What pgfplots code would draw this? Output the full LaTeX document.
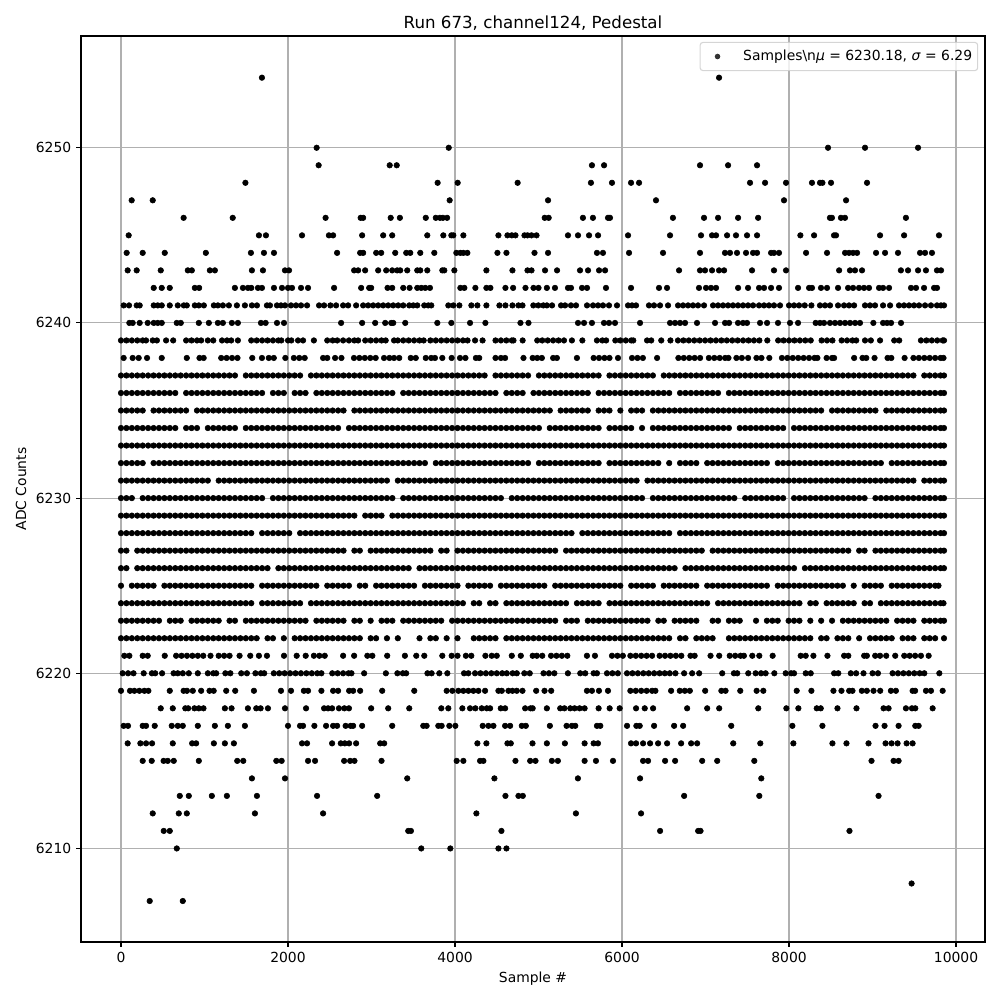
\documentclass[border=0pt]{standalone}
\usepackage{pgfplots}
\usepackage{fontspec}
\pgfplotsset{compat=1.18}
\setmainfont{DejaVu Sans}
\pgfplotsset{pt/.style={only marks,mark=*,mark size=2bp,mark options={fill=black,draw=none},black,forget plot}}
\definecolor{gridc}{HTML}{B0B0B0}
\begin{document}
\begin{tikzpicture}
\path[use as bounding box] (-0.81in,-0.58in) rectangle (9.19in,9.42in);
\begin{axis}[
    at={(0,0)},anchor=south west,
    scale only axis,
    width=9.04in,height=9.06in,
    xmin=-479,xmax=10347,ymin=6204.66,ymax=6256.38,
    xtick={0,2000,4000,6000,8000,10000},
    ytick={6210,6220,6230,6240,6250},
    scaled ticks=false,
    /pgf/number format/.cd,1000 sep={},assume math mode=true,/pgfplots/.cd,
    tick label style={font=\fontsize{10bp}{12bp}\selectfont},
    label style={font=\fontsize{10bp}{12bp}\selectfont},
    title style={font=\fontsize{12bp}{14bp}\selectfont,yshift=-5.5bp},
    title={Run 673, channel124, Pedestal},
    xlabel={Sample \#},ylabel={ADC Counts},
    grid=major,grid style={gridc,line width=0.8bp},
    axis line style={black,line width=0.8bp},
    tick style={black,line width=0.8bp},
    tick align=outside,major tick length=3.5bp,
    xtick pos=bottom,ytick pos=left,
    table/x index=0,table/header=false,
    legend image code/.code={\path[draw=none,fill=none] (0,0) rectangle (27bp,0);\fill[black,draw=none] (10.5bp,0) circle (2bp);},
    legend style={at={(0.9925,0.9935)},anchor=north east,rounded corners=2bp,draw=black!20,fill=white,fill opacity=0.8,text opacity=1,draw opacity=0.8,font=\fontsize{10bp}{12bp}\selectfont,inner xsep=2bp,inner ysep=3.6bp,line width=0.8bp},
    legend cell align=left,
]
\addplot[only marks,mark=*,mark size=2bp,mark options={fill=black,draw=none},black] table[y expr=6254]{
1688
7162
};
\addlegendentry{Samples\textbackslash n\textit{μ} = 6230.18, \textit{σ} = 6.29}
\addplot[pt] table[y expr=6250]{
2343
3925
8467
8910
9545
};
\addplot[pt] table[y expr=6249]{
2367
3218
3302
5640
5785
6934
7270
7617
};
\addplot[pt] table[y expr=6248]{
1490
3792
4032
4750
5628
5880
6108
6204
7533
7713
7964
8275
8371
8400
8503
8934
};
\addplot[pt] table[y expr=6247]{
128
380
3936
5114
6407
7940
8683
};
\addplot[pt] table[y expr=6246]{
750
1338
2450
2870
2900
3230
3340
3650
3770
3820
3855
3905
5074
5122
5532
5652
5832
5856
6610
6982
7150
7390
7630
8490
8514
8622
8670
9400
};
\addplot[pt] table[y expr=6245]{
92
1652
1736
2168
2490
2540
2888
3140
3248
3668
3860
3956
3980
4100
4520
4628
4680
4724
4832
4868
4916
4976
5353
5473
5605
5713
6072
6575
6946
7078
7126
7258
7365
7497
7617
8136
8300
8539
8563
9090
9378
9796
};
\addplot[pt] table[y expr=6244]{
68
260
524
1016
1556
1712
1832
2588
2864
2900
3056
3116
3284
3416
3464
3584
3752
4016
4064
4100
4148
4508
4616
4952
5114
5700
5772
6084
6491
6934
7233
7293
7377
7485
7569
7617
7785
7820
7880
8204
8455
8671
8719
8767
8815
9042
9150
9305
9569
9629
9712
};
\addplot[pt] table[y expr=6243]{
80
188
476
800
848
1064
1124
1568
1700
1964
2012
2792
2840
2924
3080
3176
3248
3308
3344
3428
3548
3584
3668
3848
3872
3992
4376
4688
4868
4916
5078
5222
5497
5593
5725
5797
6683
6934
6994
7078
7162
7222
7557
7820
7964
8600
8730
8790
8874
9340
9425
9545
9640
9772
9820
};
\addplot[pt] table[y expr=6242]{
392
488
584
884
936
1364
1460
1520
1560
1640
1688
1832
1928
2000
2048
2156
2240
2552
2876
2972
2996
3192
3248
3380
3456
3548
3596
3644
3700
4064
4112
4244
4376
4424
4604
4696
4844
4940
5000
5100
5197
5353
5389
5521
5581
5808
6108
6443
6539
6922
7006
7066
7126
7390
7509
7641
7701
7785
7880
8108
8240
8275
8383
8455
8587
8707
8767
8838
8898
8958
9078
9126
9198
9461
9521
9617
9737
9772
};
\addplot[pt] table[y expr=6241]{
32
96
188
224
392
440
488
584
680
752
788
884
932
992
1112
1160
1220
1292
1388
1484
1568
1628
1748
1784
1868
1916
1964
2036
2096
2156
2228
2372
2432
2508
2576
2660
2720
2816
2900
2960
3020
3080
3140
3200
3260
3320
3380
3452
3500
3548
3632
3680
3716
3920
3980
4052
4196
4268
4376
4532
4604
4688
4760
4808
4938
4998
5058
5100
5162
5270
5318
5389
5449
5581
5653
5713
5772
5844
5940
6072
6120
6168
6323
6383
6455
6551
6671
6731
6791
6850
6910
6982
7090
7150
7210
7270
7329
7389
7449
7509
7569
7641
7701
7760
7820
7892
8000
8060
8120
8188
8268
8371
8431
8491
8587
8659
8719
8779
8910
8970
9030
9126
9210
9317
9377
9437
9497
9557
9629
9700
9772
9820
9856
};
\addplot[pt] table[y expr=6240]{
100
140
224
320
392
440
488
668
716
932
1052
1160
1220
1328
1400
1676
1732
1868
1952
2636
2888
3044
3164
3236
3260
3404
3788
3956
4180
4364
4784
4880
5473
5545
5640
5784
5844
5916
6216
6575
6635
6695
6755
6898
7114
7234
7282
7389
7449
7497
7653
7737
7868
8012
8108
8319
8371
8419
8491
8551
8611
8671
8731
8791
8850
9010
9126
9174
9222
9341
};
\addplot[pt] table[y expr=6239]{
0
65
130
195
260
300
380
430
540
625
780
845
910
960
1040
1105
1210
1270
1320
1400
1560
1625
1690
1755
1820
1885
1920
2000
2040
2120
2180
2310
2470
2535
2590
2660
2730
2795
2840
2925
2990
3055
3120
3170
3270
3315
3380
3445
3510
3575
3625
3705
3770
3835
3900
3965
4030
4095
4150
4240
4330
4485
4550
4615
4680
4700
4810
4985
5045
5110
5175
5240
5305
5400
5525
5700
5765
5810
5920
5980
6045
6110
6135
6300
6350
6470
6580
6670
6735
6800
6865
6930
6995
7060
7125
7190
7255
7320
7385
7450
7515
7580
7645
7740
7870
7935
8000
8065
8130
8195
8260
8390
8455
8520
8630
8695
8760
8805
8910
8980
9090
9260
9320
9580
9645
9710
9775
9840
9856
};
\addplot[pt] table[y expr=6238]{
32
140
212
312
488
788
940
990
1200
1265
1330
1395
1572
1688
1770
1830
1968
2070
2135
2200
2420
2470
2564
2640
2790
2855
2920
2985
3050
3150
3215
3270
3332
3470
3530
3650
3715
3760
3848
3960
4060
4125
4250
4290
4485
4550
4600
4820
4930
4985
5040
5175
5220
5460
5660
5725
5790
5850
5952
6120
6185
6250
6420
6675
6740
6805
6870
6935
7040
7105
7170
7235
7275
7370
7435
7510
7610
7670
7764
7915
7980
8045
8110
8175
8240
8305
8340
8450
8515
8540
8780
8880
8925
9024
9180
9225
9384
9490
9555
9620
9685
9750
9815
9850
};
\addplot[pt] table[y expr=6237]{
0
65
130
195
260
325
390
455
520
585
650
715
780
845
910
975
1040
1105
1170
1235
1300
1365
1495
1560
1625
1690
1755
1820
1885
1950
2015
2080
2145
2275
2340
2405
2470
2535
2600
2665
2730
2795
2860
2925
2990
3055
3120
3185
3250
3315
3380
3445
3510
3575
3640
3705
3770
3835
3900
3965
4030
4095
4160
4225
4290
4355
4485
4550
4615
4680
4745
4810
4875
5005
5070
5135
5200
5265
5330
5395
5460
5525
5590
5655
5720
5850
5915
5980
6045
6110
6175
6240
6305
6370
6500
6565
6630
6695
6760
6825
6890
6955
7020
7085
7150
7215
7280
7345
7410
7475
7540
7605
7670
7735
7800
7865
7930
7995
8060
8125
8190
8255
8320
8385
8450
8515
8580
8645
8710
8775
8840
8905
8970
9035
9100
9165
9230
9295
9360
9425
9490
9620
9685
9750
9815
9856
};
\addplot[pt] table[y expr=6236]{
0
65
130
195
260
325
390
455
520
585
650
780
845
910
975
1040
1105
1170
1235
1300
1365
1430
1495
1560
1625
1690
1820
1885
1950
2080
2145
2210
2340
2405
2470
2535
2600
2665
2730
2795
2860
2925
2990
3055
3120
3185
3250
3380
3445
3510
3575
3640
3705
3770
3835
3900
3965
4030
4095
4160
4225
4290
4355
4420
4485
4615
4680
4745
4810
4940
5005
5070
5135
5200
5265
5330
5395
5460
5525
5590
5720
5785
5850
5915
5980
6045
6110
6175
6240
6305
6370
6435
6500
6565
6695
6760
6825
6890
6955
7020
7085
7150
7280
7345
7410
7475
7540
7605
7670
7735
7800
7865
7930
7995
8060
8125
8190
8255
8320
8385
8450
8515
8580
8645
8710
8775
8840
8905
8970
9035
9100
9165
9230
9295
9360
9425
9490
9555
9620
9685
9750
9815
9856
};
\addplot[pt] table[y expr=6235]{
0
65
130
195
260
390
455
520
585
650
715
780
910
975
1040
1105
1170
1235
1300
1365
1430
1495
1560
1625
1690
1755
1820
1885
1950
2015
2080
2145
2210
2275
2340
2405
2470
2535
2600
2665
2795
2860
2925
2990
3055
3120
3185
3250
3315
3380
3445
3510
3575
3640
3705
3770
3835
3900
3965
4030
4095
4160
4225
4290
4355
4420
4485
4550
4615
4680
4745
4810
4875
4940
5005
5070
5135
5265
5330
5395
5460
5525
5590
5720
5785
5850
5980
6110
6175
6240
6370
6435
6500
6565
6630
6695
6760
6825
6890
6955
7020
7085
7150
7215
7280
7345
7410
7475
7540
7605
7670
7735
7800
7865
7930
7995
8060
8125
8190
8255
8320
8385
8515
8580
8645
8710
8775
8840
8905
8970
9035
9165
9230
9295
9360
9425
9490
9555
9620
9685
9750
9815
9856
};
\addplot[pt] table[y expr=6234]{
0
65
130
195
260
325
390
455
520
585
650
780
845
910
1040
1105
1170
1235
1300
1365
1495
1560
1625
1690
1755
1820
1885
1950
2015
2080
2145
2210
2275
2340
2405
2470
2535
2600
2730
2795
2860
2925
2990
3055
3120
3185
3250
3315
3380
3445
3510
3575
3640
3705
3770
3835
3900
3965
4030
4095
4160
4225
4290
4355
4420
4485
4550
4615
4680
4745
4810
4875
4940
5005
5135
5200
5265
5330
5395
5460
5525
5590
5655
5720
5850
5915
5980
6045
6110
6240
6370
6435
6500
6565
6630
6695
6760
6825
6890
6955
7020
7085
7150
7215
7280
7410
7475
7540
7605
7670
7735
7800
7865
7930
8060
8125
8190
8255
8320
8385
8450
8515
8580
8645
8710
8775
8840
8905
8970
9035
9100
9165
9230
9295
9360
9425
9490
9555
9620
9685
9750
9815
9856
};
\addplot[pt] table[y expr=6233]{
0
65
130
195
260
325
390
455
520
585
650
715
780
845
910
975
1040
1105
1170
1235
1300
1365
1430
1495
1560
1625
1690
1755
1820
1885
1950
2015
2080
2145
2210
2275
2340
2405
2470
2535
2600
2665
2730
2795
2860
2925
2990
3055
3120
3185
3250
3315
3380
3445
3510
3575
3640
3705
3770
3835
3900
3965
4030
4095
4160
4225
4290
4355
4420
4485
4550
4615
4680
4745
4810
4875
4940
5005
5070
5135
5200
5265
5330
5395
5460
5525
5590
5655
5720
5785
5850
5915
5980
6045
6110
6175
6240
6305
6370
6435
6500
6565
6630
6695
6760
6825
6890
6955
7020
7085
7150
7215
7280
7345
7410
7475
7540
7605
7670
7735
7800
7865
7930
7995
8060
8125
8190
8255
8320
8385
8450
8515
8580
8645
8710
8775
8840
8905
8970
9035
9100
9165
9230
9295
9360
9425
9490
9555
9620
9685
9750
9815
9856
};
\addplot[pt] table[y expr=6232]{
0
65
130
195
260
390
455
520
585
650
715
780
845
910
975
1040
1105
1170
1235
1300
1365
1430
1495
1560
1625
1690
1755
1820
1885
1950
2015
2080
2145
2210
2275
2340
2405
2470
2535
2600
2665
2730
2795
2860
2925
2990
3055
3120
3185
3250
3315
3380
3445
3510
3575
3640
3770
3835
3900
3965
4030
4095
4160
4225
4290
4355
4420
4485
4550
4615
4680
4745
4810
4875
5005
5070
5135
5200
5265
5330
5395
5460
5525
5590
5655
5720
5850
5915
5980
6045
6110
6175
6240
6305
6370
6435
6565
6695
6760
6825
6890
7020
7085
7150
7215
7280
7345
7410
7475
7540
7605
7670
7735
7865
7930
7995
8060
8125
8190
8255
8320
8385
8450
8515
8580
8645
8710
8775
8840
8905
8970
9035
9100
9230
9295
9360
9425
9490
9555
9620
9685
9750
9815
9856
};
\addplot[pt] table[y expr=6231]{
0
65
130
195
260
325
390
455
520
585
650
715
780
845
910
975
1040
1170
1235
1300
1365
1430
1495
1560
1625
1690
1755
1820
1885
1950
2015
2080
2145
2210
2275
2340
2405
2470
2535
2600
2665
2730
2795
2860
2925
2990
3055
3120
3185
3315
3380
3445
3510
3575
3640
3705
3770
3835
3900
3965
4030
4095
4160
4225
4290
4355
4420
4485
4550
4615
4680
4745
4810
4875
4940
5005
5070
5135
5200
5265
5330
5395
5460
5525
5590
5655
5720
5785
5850
5915
5980
6045
6110
6175
6305
6370
6435
6500
6565
6630
6695
6760
6825
6890
6955
7020
7085
7150
7215
7280
7345
7410
7475
7540
7605
7670
7735
7800
7865
7930
7995
8060
8125
8190
8255
8320
8385
8450
8515
8580
8645
8710
8775
8840
8905
8970
9035
9100
9165
9230
9295
9360
9425
9490
9620
9685
9750
9815
9856
};
\addplot[pt] table[y expr=6230]{
0
65
130
260
325
390
455
520
585
650
715
780
845
910
975
1040
1105
1170
1235
1300
1365
1430
1495
1560
1625
1690
1820
1885
1950
2015
2080
2145
2210
2275
2340
2405
2470
2535
2600
2665
2730
2795
2860
2925
2990
3055
3120
3185
3250
3380
3445
3510
3575
3640
3705
3770
3835
3900
3965
4030
4095
4160
4225
4290
4355
4420
4485
4550
4680
4745
4810
4875
4940
5005
5070
5135
5200
5265
5330
5395
5460
5525
5590
5655
5720
5785
5850
5915
5980
6045
6110
6175
6240
6370
6435
6500
6565
6630
6695
6760
6825
6890
6955
7020
7085
7150
7215
7280
7345
7475
7540
7605
7670
7735
7800
7865
7930
8060
8125
8190
8255
8320
8385
8450
8515
8580
8645
8710
8775
8840
8905
9035
9100
9165
9230
9295
9360
9425
9490
9555
9620
9685
9750
9815
9856
};
\addplot[pt] table[y expr=6229]{
0
65
130
195
260
325
390
455
520
585
650
715
780
845
910
975
1040
1105
1170
1235
1300
1365
1430
1495
1560
1625
1690
1755
1820
1885
1950
2015
2080
2145
2210
2275
2340
2405
2470
2535
2600
2665
2730
2795
2925
2990
3055
3120
3250
3315
3380
3445
3510
3575
3640
3705
3770
3835
3900
3965
4030
4095
4160
4225
4290
4355
4420
4485
4550
4615
4680
4745
4810
4875
4940
5005
5070
5135
5200
5265
5330
5395
5460
5525
5590
5655
5720
5785
5850
5915
5980
6045
6110
6175
6240
6305
6370
6435
6500
6565
6630
6695
6760
6825
6890
6955
7020
7085
7150
7215
7280
7345
7410
7475
7540
7605
7670
7735
7800
7865
7930
7995
8060
8125
8190
8255
8320
8385
8450
8515
8580
8645
8710
8775
8840
8905
8970
9035
9100
9165
9230
9295
9360
9425
9490
9555
9620
9685
9750
9815
9856
};
\addplot[pt] table[y expr=6228]{
0
65
130
195
260
325
390
455
520
585
650
715
780
845
910
975
1040
1105
1170
1235
1300
1365
1430
1495
1560
1690
1755
1820
1885
1950
2015
2145
2210
2275
2340
2405
2470
2535
2600
2665
2730
2795
2860
2925
2990
3055
3120
3185
3250
3315
3380
3445
3510
3575
3640
3705
3770
3835
3900
3965
4030
4095
4160
4225
4290
4355
4420
4485
4550
4615
4680
4745
4810
4875
4940
5005
5070
5135
5200
5265
5330
5395
5525
5590
5655
5720
5785
5850
5915
5980
6045
6110
6175
6240
6305
6370
6435
6500
6565
6695
6760
6825
6890
6955
7020
7085
7150
7215
7280
7345
7410
7475
7540
7605
7670
7735
7800
7865
7930
7995
8060
8125
8190
8255
8320
8385
8450
8515
8580
8645
8710
8775
8840
8905
8970
9035
9100
9165
9230
9295
9360
9425
9490
9555
9620
9685
9750
9815
9856
};
\addplot[pt] table[y expr=6227]{
0
65
195
260
325
390
455
520
585
650
715
780
845
910
975
1040
1105
1170
1235
1300
1365
1430
1495
1560
1625
1690
1755
1820
1885
1950
2015
2080
2145
2210
2275
2340
2405
2470
2535
2600
2665
2795
2860
2990
3055
3120
3185
3250
3315
3380
3445
3510
3575
3640
3705
3835
3900
4030
4095
4160
4225
4290
4355
4420
4485
4550
4615
4680
4745
4810
4875
4940
5005
5070
5135
5200
5330
5395
5460
5525
5590
5655
5720
5785
5850
5915
5980
6045
6110
6175
6240
6305
6370
6435
6500
6565
6630
6695
6760
6825
6890
6955
7085
7150
7215
7280
7345
7410
7475
7540
7605
7670
7735
7800
7865
7930
7995
8060
8125
8190
8255
8320
8385
8450
8515
8580
8645
8710
8840
8905
9035
9100
9165
9230
9295
9360
9425
9490
9555
9620
9685
9750
9815
9856
};
\addplot[pt] table[y expr=6226]{
0
65
195
260
325
390
455
520
585
650
715
780
845
910
975
1040
1105
1170
1235
1300
1365
1430
1495
1560
1625
1690
1755
1885
1950
2015
2080
2145
2210
2275
2340
2405
2470
2535
2600
2665
2730
2795
2860
2925
2990
3055
3120
3185
3250
3315
3380
3445
3575
3640
3705
3770
3835
3900
3965
4030
4095
4160
4225
4290
4355
4420
4485
4550
4615
4680
4745
4810
4875
4940
5005
5070
5135
5200
5265
5330
5395
5460
5525
5590
5655
5720
5785
5850
5915
5980
6045
6110
6175
6240
6305
6370
6435
6500
6565
6630
6760
6825
6890
6955
7020
7085
7150
7215
7280
7345
7410
7475
7540
7605
7670
7735
7800
7865
7930
7995
8060
8190
8255
8320
8385
8450
8515
8580
8645
8710
8775
8840
8905
8970
9035
9100
9165
9230
9295
9360
9425
9490
9555
9620
9685
9750
9815
9856
};
\addplot[pt] table[y expr=6225]{
0
130
195
260
325
390
520
585
650
715
780
845
910
975
1040
1105
1170
1235
1300
1365
1430
1495
1560
1690
1755
1820
1885
1950
2015
2080
2145
2210
2275
2340
2470
2535
2600
2665
2730
2860
2925
3055
3120
3185
3250
3315
3380
3445
3510
3640
3705
3770
3835
3900
3965
4030
4160
4225
4290
4355
4420
4550
4615
4680
4745
4810
4875
4940
5005
5070
5200
5265
5330
5395
5460
5525
5590
5655
5720
5785
5850
5915
5980
6110
6175
6240
6305
6370
6500
6565
6630
6695
6760
6825
6890
7020
7085
7150
7215
7280
7345
7410
7475
7540
7605
7670
7735
7865
7930
7995
8060
8125
8190
8255
8320
8385
8450
8515
8580
8645
8775
8905
8970
9035
9100
9230
9295
9360
9425
9490
9555
9620
9685
9750
9790
};
\addplot[pt] table[y expr=6224]{
0
65
130
195
260
325
390
455
520
585
650
715
780
845
910
975
1040
1105
1170
1235
1300
1365
1430
1495
1560
1690
1755
1820
1885
1950
2015
2080
2145
2275
2340
2405
2470
2535
2600
2665
2730
2795
2860
2925
2990
3055
3120
3185
3250
3315
3380
3445
3510
3575
3640
3705
3770
3835
3900
3965
4030
4095
4225
4290
4420
4485
4615
4680
4745
4810
4875
4940
5005
5070
5135
5200
5265
5330
5460
5525
5590
5655
5720
5850
5915
5980
6045
6110
6175
6240
6305
6370
6435
6500
6565
6630
6695
6760
6825
6890
6955
7020
7150
7215
7280
7345
7410
7475
7540
7605
7670
7735
7800
7865
7930
7995
8060
8125
8255
8320
8450
8515
8580
8645
8710
8775
8905
8970
9100
9165
9230
9295
9360
9425
9490
9555
9620
9685
9750
9815
9850
};
\addplot[pt] table[y expr=6223]{
0
65
130
195
260
325
390
455
585
650
715
845
910
975
1040
1105
1170
1300
1365
1495
1560
1625
1690
1755
1820
1885
1950
2015
2080
2145
2210
2340
2405
2470
2535
2600
2665
2795
2860
2990
3120
3185
3250
3380
3445
3510
3575
3640
3705
3770
3835
3965
4030
4095
4160
4225
4290
4355
4420
4485
4550
4615
4680
4745
4810
4875
4940
5005
5070
5135
5200
5330
5395
5460
5590
5655
5720
5785
5850
5915
5980
6045
6110
6175
6240
6305
6435
6500
6630
6695
6760
6825
6890
7085
7150
7280
7345
7410
7605
7735
7800
7865
7995
8060
8125
8255
8385
8515
8645
8710
8775
8840
8905
8970
9035
9100
9165
9295
9360
9425
9490
9620
9685
9750
9815
9856
};
\addplot[pt] table[y expr=6222]{
0
65
130
195
260
325
390
455
520
585
650
715
780
845
910
975
1040
1105
1170
1235
1300
1365
1430
1495
1560
1625
1755
1820
1950
2080
2145
2210
2275
2340
2405
2470
2535
2600
2665
2730
2795
2860
2990
3055
3185
3315
3575
3705
3770
3900
4030
4225
4290
4355
4420
4485
4615
4680
4745
4810
4875
4940
5005
5070
5135
5200
5265
5330
5395
5460
5525
5590
5655
5720
5785
5850
5915
5980
6045
6110
6175
6240
6305
6370
6435
6500
6565
6695
6760
6890
6955
7020
7085
7280
7345
7410
7475
7540
7605
7670
7735
7800
7865
7930
7995
8060
8125
8190
8255
8385
8450
8580
8645
8710
8840
8970
9035
9100
9165
9230
9360
9425
9490
9620
9685
9750
9856
};
\addplot[pt] table[y expr=6221]{
40
100
260
320
524
660
725
790
855
920
985
1072
1170
1235
1300
1420
1548
1652
1748
1952
2104
2212
2310
2375
2440
2660
2792
2950
3010
3188
3400
3536
3632
3848
3960
4030
4130
4195
4364
4440
4500
4680
4788
4930
4980
5045
5150
5215
5280
5345
5580
5676
5880
5945
6010
6100
6165
6230
6295
6360
6450
6515
6580
6645
6710
6820
6870
7060
7164
7290
7355
7420
7460
7560
7644
7804
8140
8200
8292
8460
8660
8710
8900
8932
9032
9090
9164
9272
9380
9445
9510
9580
9672
};
\addplot[pt] table[y expr=6220]{
20
85
150
272
370
410
492
630
680
740
812
920
1040
1105
1140
1250
1310
1440
1508
1610
1675
1715
1830
1895
1960
2025
2090
2155
2220
2285
2350
2400
2530
2595
2660
2725
2760
2912
3172
3310
3375
3415
3670
3720
3812
3908
4108
4160
4240
4305
4370
4435
4500
4565
4620
4690
4740
4830
4895
5060
5125
5190
5352
5500
5560
5660
5700
5820
5885
5950
6060
6125
6190
6255
6320
6385
6450
6512
6572
6640
6744
6840
6924
7200
7340
7380
7512
7600
7665
7720
7824
7960
8025
8060
8200
8260
8540
8590
8740
8804
8892
9000
9065
9240
9305
9370
9435
9500
9565
9620
9800
};
\addplot[pt] table[y expr=6219]{
0
108
160
220
280
328
584
750
790
860
960
1060
1110
1260
1368
1592
1916
2036
2190
2240
2400
2540
2600
2732
2780
2864
3128
3512
3900
3968
4040
4100
4160
4220
4280
4360
4520
4560
4640
4688
4740
4808
4972
5072
5152
5580
5640
5724
5832
6100
6165
6230
6295
6360
6400
6588
6692
6752
6812
6996
7190
7240
7416
7612
7692
8092
8268
8532
8628
8720
8760
8872
8932
9012
9092
9220
9280
9480
9510
9640
9700
9840
};
\addplot[pt] table[y expr=6218]{
476
620
770
805
880
932
988
1244
1324
1520
1620
1672
1760
1964
2216
2432
2480
2528
2610
2675
2730
2996
3200
3452
3836
3920
4088
4180
4244
4320
4380
4420
4548
4600
4840
4905
4930
5100
5260
5310
5380
5432
5492
5552
5720
5852
5972
6168
6272
6372
6780
7020
7164
7632
7968
8112
8332
8380
8580
8808
9132
9192
9400
9472
9512
9720
};
\addplot[pt] table[y expr=6217]{
32
84
260
300
404
608
680
740
920
1124
1280
1484
2000
2144
2180
2316
2456
2540
2588
2690
2750
2780
2888
3248
3620
3660
3800
3840
3932
4004
4332
4400
4460
4600
4660
4800
4848
5136
5336
5400
5440
5700
5740
6060
6172
6212
6384
6624
6732
7308
8040
8400
9036
9144
9312
9512
9552
};
\addplot[pt] table[y expr=6216]{
80
232
300
372
620
852
900
1112
1244
1352
2168
2228
2528
2632
2680
2732
2816
3104
3152
4268
4376
4628
4668
4928
5100
5316
5552
5660
5712
6108
6168
6252
6336
6432
6540
6708
6828
6900
7332
7656
8052
8520
8688
8952
9156
9228
9300
9408
9480
};
\addplot[pt] table[y expr=6215]{
260
368
510
560
632
932
1392
1464
1860
1924
2240
2324
2672
2744
2796
3120
4020
4100
4300
4340
4724
4900
4964
5160
5232
5552
5688
5892
6252
6312
6516
6636
6960
7140
7584
8988
9252
9312
};
\addplot[pt] table[y expr=6214]{
1568
1964
3428
4472
5472
6216
7668
};
\addplot[pt] table[y expr=6213]{
704
812
1088
1268
1628
2348
3068
4604
4760
4812
6744
7644
9072
};
\addplot[pt] table[y expr=6212]{
380
692
788
1604
2420
4256
5448
6228
};
\addplot[pt] table[y expr=6211]{
512
584
3440
3472
4556
6456
6912
6940
8724
};
\addplot[pt] table[y expr=6210]{
668
3596
3944
4520
4616
};
\addplot[pt] table[y expr=6208]{
9468
};
\addplot[pt] table[y expr=6207]{
344
740
};
\end{axis}
\end{tikzpicture}
\end{document}
